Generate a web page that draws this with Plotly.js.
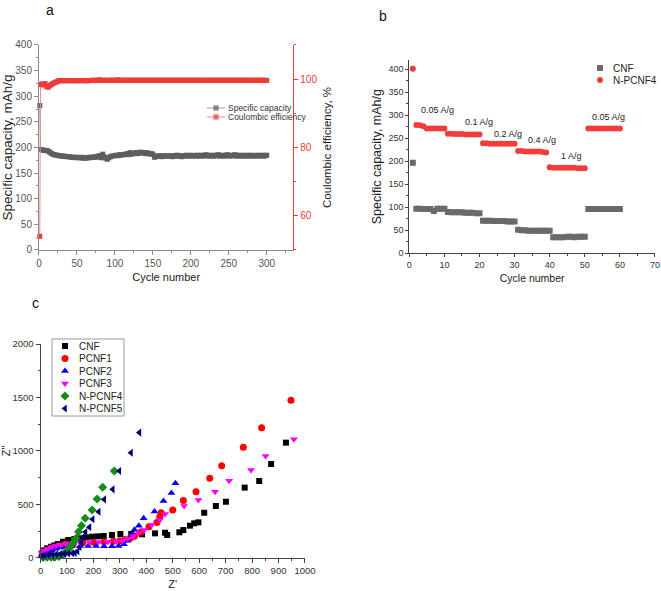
<!DOCTYPE html>
<html><head><meta charset="utf-8">
<script src="https://cdn.plot.ly/plotly-3.0.1.min.js"></script>
<style>html,body{margin:0;padding:0;background:#fff}</style>
</head><body><div id="chart" style="width:661px;height:591px"></div>
<script>
// ---------- Panel a: cycling ----------
const capFirst = 282;   // cycle 1
const capacity = [
 196,195,195,194,194,193,191,189,
 187,186,185,185,184,184,183,
 183,183,182,182,182,181,181,181,180,181,
 180,180,181,179,180,179,180,181,180,181,
 181,182,181,183,184,180,187,182,179,177,
 180,182,183,184,184,185,184,186,185,186,
 186,187,188,186,190,187,188,189,190,188,
 190,191,189,190,188,190,189,187,188,187,
 181,182,183,184,183,182,184,183,184,183,
 183,184,182,184,183,185,183,184,182,184,
 183,185,184,183,185,184,183,184,185,183,
 184,185,183,184,186,184,183,185,184,183,
 185,184,186,183,184,185,183,184,186,184,
 183,185,184,186,183,185,184,183,185,184,
 183,185,184,183,185,184,183,184,185,183,
 184,185,183,184,185];
const ceFirst = 54;
const coulombic = [
 98.4,98.6,98.3,98.7,97.9,97.6,98.1,98.4,
 98.7,98.9,99.1,99.3,99.5,99.6,99.5,
 99.6,99.5,99.6,99.5,99.6,99.5,99.6,99.5,99.6,99.5,
 99.6,99.5,99.6,99.6,99.5,99.6,99.5,99.6,99.6,99.7,
 99.6,99.7,99.6,99.7,99.8,99.6,99.7,99.6,99.7,99.6,
 99.7,99.6,99.7,99.7,99.6,99.7,99.8,99.7,99.6,99.7,
 99.7,99.6,99.7,99.7,99.6,99.7,99.7,99.6,99.7,99.7,
 99.6,99.7,99.7,99.6,99.7,99.7,99.6,99.7,99.7,99.6,
 99.7,99.7,99.6,99.7,99.7,99.6,99.7,99.7,99.6,99.7,
 99.7,99.6,99.7,99.7,99.6,99.7,99.7,99.6,99.7,99.7,
 99.6,99.7,99.7,99.6,99.7,99.7,99.6,99.7,99.7,99.6,
 99.7,99.7,99.6,99.7,99.7,99.6,99.7,99.7,99.6,99.7,
 99.7,99.6,99.7,99.7,99.6,99.7,99.7,99.6,99.7,99.7,
 99.6,99.7,99.7,99.6,99.7,99.7,99.6,99.7,99.7,99.6,
 99.7,99.7,99.6,99.7,99.7,99.6,99.7,99.7,99.6,99.7,
 99.7,99.6,99.7,99.7,99.6];
const cyclesA = [1].concat(capacity.map((_, i) => 2 * i + 2));
const legendA = ["Specific capacity", "Coulombic efficiency"];

// ---------- Panel b: rate capability ----------
const rateCNF = [197, 97,97,96,96,96,92,97,97,97,
 90,89,89,89,89,88,88,88,87,87,
 71,71,71,70,70,70,70,69,69,69,
 51,50,50,49,49,49,49,49,49,49,
 35,35,35,35,36,36,35,36,36,36,
 96,96,96,96,96,96,96,96,96,96];
const rateNPCNF4 = [401, 279,278,276,271,271,271,271,271,271,
 260,260,259,259,259,258,258,258,258,258,
 239,239,238,238,238,238,238,238,238,238,
 222,222,221,221,221,221,221,220,219,187,
 186,186,186,186,186,186,186,185,185,185,
 271,271,271,271,271,271,271,271,271,271];
const cyclesB = rateCNF.map((_, i) => i + 1);
const legendB = ["CNF", "N-PCNF4"];
const rateLabels = ["0.05 A/g", "0.1 A/g", "0.2 A/g", "0.4 A/g", "1 A/g", "0.05 A/g"];
const rateLabelX = [7.9, 19.9, 28.2, 37.9, 46.2, 56.8];
const rateLabelY = [312, 286, 260, 247, 212, 297];

// ---------- Panel c: Nyquist ----------
const namesC = ["CNF", "PCNF1", "PCNF2", "PCNF3", "N-PCNF4", "N-PCNF5"];
const cnfZre = [5,14,25,40,52,65,85,105,128,150,173,195,217,239,270,302,343,384,433,471,479,525,540,565,581,597,619,663,701,772,827,872,928];
const cnfZim = [40,69,88,103,115,128,150,166,175,182,190,197,200,203,213,222,222,219,228,234,213,238,259,300,322,331,421,484,524,656,718,877,1077];
const pcnf1Zre = [8,20,35,50,70,95,125,160,200,240,275,300,320,340,355,380,410,440,451,456,500,540,588,640,685,767,836,947];
const pcnf1Zim = [35,60,80,95,110,125,135,140,145,150,155,160,170,185,200,240,290,330,384,420,447,535,618,743,861,1034,1217,1474];
const pcnf2Zre = [5,15,28,42,58,75,95,120,150,180,210,240,270,295,315,330,345,355,372,390,431,465,495,510];
const pcnf2Zim = [25,40,55,70,85,95,105,110,110,110,110,108,108,110,125,160,210,262,300,370,433,530,605,696];
const pcnf3Zre = [5,15,28,42,58,75,95,120,150,185,220,255,285,310,330,350,370,392,420,451,471,543,597,660,713,796,851,958];
const pcnf3Zim = [45,65,85,100,112,122,130,138,142,145,148,150,152,160,180,200,230,260,306,353,409,484,540,618,721,821,952,1108];
const npcnf4Zre = [10,25,40,55,70,85,95,109,122,134,144,155,169,195,214,235,279];
const npcnf4Zim = [3,5,6,8,12,25,55,88,135,182,243,300,369,447,550,659,812];
const npcnf5Zre = [5,15,30,45,60,75,90,105,120,130,140,148,155,160,170,185,197,220,241,273,298,342,374];
const npcnf5Zim = [15,20,25,30,32,35,38,40,42,45,60,100,140,191,240,285,360,431,546,640,812,983,1171];

// ---------- styles ----------
const FONT = "Liberation Sans, Arial, sans-serif";
const grayA = "#5e5e5e", redA = "#f03a3a";
const grayB = "#6a6a6a", redB = "#f23c3c";
const colorsC = ["#000000", "#ff0000", "#0000ff", "#ff00ff", "#1a8a1a", "#00007a"];
const symbolsC = ["square", "circle", "triangle-up", "triangle-down", "diamond", "triangle-left"];
const sizesC = [6, 7, 7, 7, 7, 7];
const zre = [cnfZre, pcnf1Zre, pcnf2Zre, pcnf3Zre, npcnf4Zre, npcnf5Zre];
const zim = [cnfZim, pcnf1Zim, pcnf2Zim, pcnf3Zim, npcnf4Zim, npcnf5Zim];

const traces = [];
// panel a
traces.push({x: cyclesA, y: [capFirst].concat(capacity), xaxis: "x", yaxis: "y", type: "scatter",
  mode: "lines+markers", line: {color: "#9a9a9a", width: 1},
  marker: {symbol: "square", size: 5, color: grayA}, showlegend: false, cliponaxis: false, name: legendA[0]});
traces.push({x: cyclesA, y: [ceFirst].concat(coulombic), xaxis: "x", yaxis: "y2", type: "scatter",
  mode: "lines+markers", line: {color: "#f58a8a", width: 1},
  marker: {symbol: "square", size: 5, color: redA}, showlegend: false, cliponaxis: false, name: legendA[1]});
// panel b
traces.push({x: cyclesB, y: rateCNF, xaxis: "x3", yaxis: "y3", type: "scatter", mode: "markers",
  marker: {symbol: "square", size: 6, color: grayB}, showlegend: false, name: legendB[0]});
traces.push({x: cyclesB, y: rateNPCNF4, xaxis: "x3", yaxis: "y3", type: "scatter", mode: "markers",
  marker: {symbol: "circle", size: 6, color: redB}, showlegend: false, name: legendB[1]});
// panel c
namesC.forEach((n, i) => traces.push({x: zre[i], y: zim[i], xaxis: "x4", yaxis: "y4", type: "scatter",
  mode: "markers", marker: {symbol: symbolsC[i], size: sizesC[i], color: colorsC[i]},
  showlegend: false, cliponaxis: false, name: n}));

// ---------- hand-drawn legends on a pixel helper axis ----------
const annotations = [];
function legText(t, px, py, size, color) {
  annotations.push({xref: "x9", yref: "y9", x: px, y: py, text: t, showarrow: false,
    xanchor: "left", yanchor: "middle", font: {family: FONT, size: size, color: color}});
}
// legend a
[[grayA, "#9a9a9a"], [redA, "#f58a8a"]].forEach((c, i) => {
  const py = 108 + i * 9;
  traces.push({x: [207, 216, 225], y: [py, py, py], xaxis: "x9", yaxis: "y9", type: "scatter",
    mode: "lines+markers", line: {color: c[1], width: 1}, marker: {symbol: "square", size: [0, 5, 0], color: c[0]},
    showlegend: false, hoverinfo: "skip", cliponaxis: false});
  legText(legendA[i], 226, py, 8.5, "#333");
});
// legend b
[[grayB, "square"], [redB, "circle"]].forEach((c, i) => {
  const py = 68 + i * 12;
  traces.push({x: [600], y: [py], xaxis: "x9", yaxis: "y9", type: "scatter", mode: "markers",
    marker: {symbol: c[1], size: 6, color: c[0]}, showlegend: false, hoverinfo: "skip", cliponaxis: false});
  legText(legendB[i], 611, py, 10, "#222");
});
// legend c
namesC.forEach((n, i) => {
  const py = 346 + i * 12.5;
  traces.push({x: [65], y: [py], xaxis: "x9", yaxis: "y9", type: "scatter", mode: "markers",
    marker: {symbol: symbolsC[i], size: sizesC[i], color: colorsC[i]}, showlegend: false, hoverinfo: "skip", cliponaxis: false});
  legText(n, 77, py, 10, "#222");
});

// rate labels (panel b)
rateLabels.forEach((t, i) => annotations.push({xref: "x3", yref: "y3", x: rateLabelX[i], y: rateLabelY[i],
  text: t, showarrow: false, font: {family: FONT, size: 9, color: "#222"}}));
// panel letters
[["a", 50, 10], ["b", 383, 16], ["c", 35, 303]].forEach(p => annotations.push({xref: "x9", yref: "y9",
  x: p[1], y: p[2], text: p[0], showarrow: false, font: {family: FONT, size: 14, color: "#111"}}));

function ax(o) {
  return Object.assign({showgrid: false, zeroline: false, showline: true, ticks: "outside", ticklen: 4,
    tickwidth: 1, linewidth: 1, fixedrange: true, automargin: false}, o);
}
const gA = "#8c8c8c";
const layout = {
  width: 661, height: 591, autosize: false,
  margin: {l: 0, r: 0, t: 0, b: 0, pad: 0},
  paper_bgcolor: "#fff", plot_bgcolor: "rgba(0,0,0,0)",
  font: {family: FONT, color: "#333"},
  showlegend: false,
  xaxis: ax({domain: [0.0590, 0.4437], range: [0, 335], anchor: "y", dtick: 50, tick0: 0,
    linecolor: gA, tickcolor: gA, tickfont: {size: 10, color: "#555"},
    minor: {dtick: 25, ticks: "outside", ticklen: 2, tickcolor: gA},
    title: {text: "Cycle number", font: {size: 11, color: "#222"}, standoff: 5}}),
  xaxis5: ax({overlaying: "x", side: "top", anchor: "y", range: [0, 335], dtick: 25, tick0: 0,
    ticks: "inside", ticklen: 3, showticklabels: false, linecolor: gA, tickcolor: gA}),
  yaxis: ax({domain: [0.5770, 0.9239], range: [0, 400], anchor: "x", dtick: 50, tick0: 0,
    linecolor: gA, tickcolor: gA, tickfont: {size: 10, color: "#555"},
    minor: {dtick: 25, ticks: "outside", ticklen: 2, tickcolor: gA},
    title: {text: "Specific capacity, mAh/g", font: {size: 13.5, color: "#222"}, standoff: 4}}),
  yaxis2: ax({overlaying: "y", side: "right", anchor: "x", range: [50, 110], dtick: 20, tick0: 0,
    linecolor: "#f03a3a", tickcolor: "#f03a3a", tickfont: {size: 10, color: "#f03a3a"},
    minor: {dtick: 10, ticks: "outside", ticklen: 2, tickcolor: "#f03a3a"},
    title: {text: "Coulombic efficiency, %", font: {size: 11.5, color: "#222"}, standoff: 6}}),
  xaxis3: ax({domain: [0.6192, 0.9909], range: [0, 70], anchor: "y3", dtick: 10, tick0: 0,
    linecolor: "#444", tickcolor: "#444", ticklen: 3, tickfont: {size: 9, color: "#333"},
    minor: {dtick: 5, ticks: "outside", ticklen: 2, tickcolor: "#444"},
    title: {text: "Cycle number", font: {size: 10.5, color: "#222"}, standoff: 5}}),
  yaxis3: ax({domain: [0.5714, 0.8985], range: [0, 420], anchor: "x3", dtick: 50, tick0: 0,
    linecolor: "#444", tickcolor: "#444", ticklen: 3, tickfont: {size: 9, color: "#333"},
    minor: {dtick: 25, ticks: "outside", ticklen: 2, tickcolor: "#444"},
    title: {text: "Specific capacity, mAh/g", font: {size: 12.5, color: "#222"}, standoff: 4}}),
  xaxis4: ax({domain: [0.0613, 0.4614], range: [0, 1000], anchor: "y4", dtick: 100, tick0: 0,
    linecolor: "#444", tickcolor: "#444", tickfont: {size: 9.5, color: "#333"},
    minor: {dtick: 50, ticks: "outside", ticklen: 2, tickcolor: "#444"},
    title: {text: "Z'", font: {size: 11, color: "#222"}, standoff: 5}}),
  yaxis4: ax({domain: [0.0563, 0.4179], range: [0, 2000], anchor: "x4", dtick: 500, tick0: 0,
    linecolor: "#444", tickcolor: "#444", tickfont: {size: 9.5, color: "#333"},
    minor: {dtick: 250, ticks: "outside", ticklen: 2, tickcolor: "#444"},
    title: {text: "Z''", font: {size: 11, color: "#222"}, standoff: 8}}),
  xaxis9: {domain: [0, 1], range: [0, 661], anchor: "y9", visible: false, fixedrange: true},
  yaxis9: {domain: [0, 1], range: [591, 0], anchor: "x9", visible: false, fixedrange: true},
  shapes: [{type: "rect", xref: "x9", yref: "y9", x0: 52, x1: 124, y0: 339, y1: 416, layer: "below",
    line: {color: "#999", width: 1}, fillcolor: "#fff"}],
  annotations: annotations
};
Plotly.newPlot("chart", traces, layout, {staticPlot: true, displayModeBar: false});
</script></body></html>
